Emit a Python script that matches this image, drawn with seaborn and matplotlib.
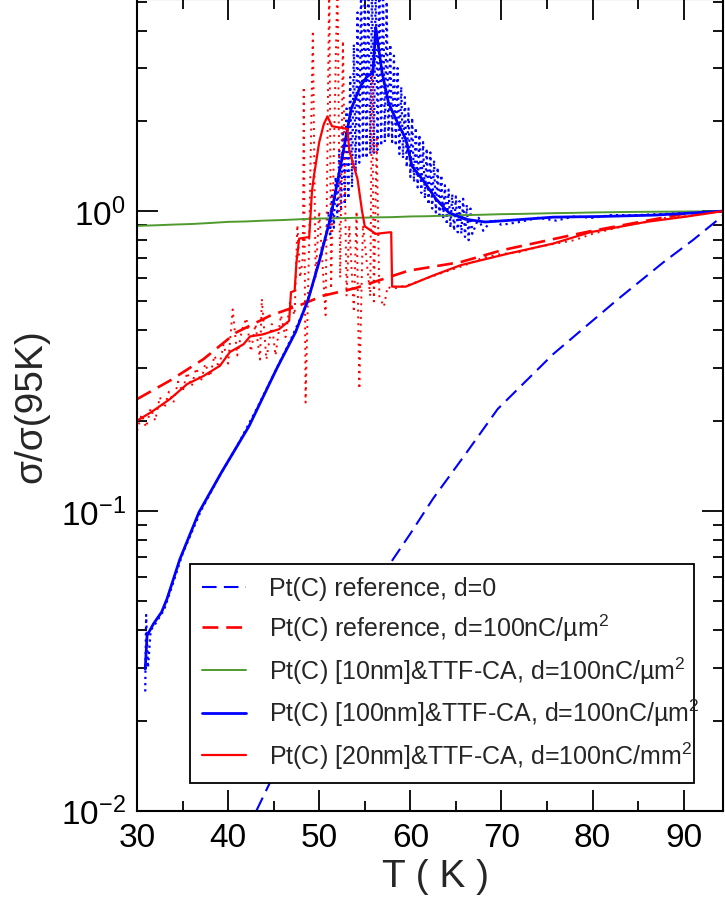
import numpy as np
import pandas as pd
import seaborn as sns
import matplotlib.pyplot as plt
from matplotlib.ticker import LogLocator, MultipleLocator, NullFormatter, LogFormatterSciNotation

# values: T (K) and sigma/sigma(95K)
ref0_T = [43.1, 44.8, 48.0, 52.0, 55.0, 57.9, 60.0, 62.5, 66.0, 69.6, 75.7, 82.8, 87.8, 91.0, 94.3]
ref0_y = [0.010, 0.0128, 0.019, 0.031, 0.047, 0.0676, 0.084, 0.110, 0.154, 0.219, 0.334, 0.509, 0.676, 0.80, 0.965]

ref100_T = [30.0, 33.6, 37.3, 40.9, 44.6, 48.2, 50.4, 54.0, 59.8, 65.5, 70.0, 78.2, 80.0, 89.8, 94.3]
ref100_y = [0.236, 0.272, 0.321, 0.394, 0.448, 0.49, 0.522, 0.554, 0.633, 0.676, 0.74, 0.838, 0.86, 0.977, 1.0]

g10_T = [30, 32, 34, 36, 38, 40, 42, 44, 46, 48, 50, 52, 54, 56, 58, 60, 62, 64, 66, 68, 70,
         72, 74, 76, 78, 80, 82, 84, 86, 88, 90, 92, 94.3]
g10_y = [0.893, 0.897, 0.902, 0.906, 0.913, 0.921, 0.924, 0.93, 0.934, 0.94, 0.945, 0.947, 0.95, 0.953,
         0.955, 0.96, 0.962, 0.966, 0.97, 0.973, 0.977, 0.979, 0.982, 0.985, 0.987, 0.99, 0.992,
         0.994, 0.995, 0.996, 0.997, 0.998, 1.0]

b100_T = [30.9, 31.1, 31.8, 32.7, 33.3, 34.7, 36.8, 39.3, 42.3, 45.3, 47.4, 48.8, 50.0, 51.2, 52.5,
          53.5, 54.5, 55.2, 55.9, 56.2, 56.9, 57.6, 58.4, 59.5, 60.2, 61.3, 62.8, 64.2, 66.0, 68.2,
          70.5, 75.7, 81.0, 86.8, 92.0, 94.3]
b100_y = [0.0297, 0.0384, 0.042, 0.046, 0.051, 0.069, 0.099, 0.135, 0.192, 0.297, 0.395, 0.509, 0.68,
          0.94, 1.5, 2.19, 2.6, 2.8, 2.9, 4.1, 2.9, 2.3, 2.03, 1.74, 1.41, 1.28, 1.1, 0.99, 0.94, 0.92,
          0.93, 0.955, 0.96, 0.97, 0.99, 1.0]

# raw 100nm trace (dotted): scatters strongly around the peak
b100_dot_T = [30.9, 31.0, 31.2, 31.5, 32.0, 33.0, 34.0, 35.0, 37.0, 39.0, 41.0, 43.0, 45.0, 47.0, 48.5,
              49.5, 50.3, 50.8,
              51.0, 51.2, 51.4, 51.6, 51.8, 52.0, 52.2, 52.4, 52.6, 52.8, 53.0, 53.2, 53.4, 53.6, 53.8,
              54.0, 54.2, 54.4, 54.6, 54.8, 55.0, 55.2, 55.4, 55.6, 55.8, 56.0, 56.2, 56.4, 56.6, 56.8,
              57.0, 57.2, 57.4, 57.6, 57.8, 58.0, 58.2, 58.4, 58.6, 58.8, 59.0, 59.2, 59.4, 59.6, 59.8,
              60.0, 60.2, 60.4, 60.6, 60.8, 61.0, 61.2, 61.4, 61.6, 61.8, 62.0, 62.2, 62.4, 62.6, 62.8,
              63.0, 63.2, 63.4, 63.6, 63.8, 64.0, 64.2, 64.4, 64.6, 64.8, 65.0, 65.2, 65.4, 65.6, 65.8,
              66.0, 66.2, 66.4, 66.6, 66.8,
              67.5, 68.0, 69.0, 70.0, 72.0, 74.0, 76.0, 78.0, 80.0, 82.0, 85.0, 88.0, 91.0, 94.3]
b100_dot_y = [0.025, 0.045, 0.03, 0.04, 0.042, 0.047, 0.058, 0.072, 0.1, 0.13, 0.165, 0.215, 0.285, 0.38,
              0.48, 0.6, 0.75, 0.85,
              1.0, 0.82, 1.15, 0.88, 1.3, 0.95, 1.6, 1.0, 1.9, 1.05, 2.2, 1.1, 2.8, 1.2, 3.6,
              1.35, 4.6, 1.45, 6.0, 1.5, 6.0, 1.5, 6.0, 1.55, 6.0, 1.55, 6.0, 1.6, 6.0, 1.65,
              6.0, 1.7, 5.0, 1.75, 3.6, 1.7, 3.3, 1.65, 3.0, 1.55, 2.6, 1.5, 2.4, 1.4, 2.2,
              1.3, 2.05, 1.25, 1.9, 1.2, 1.8, 1.15, 1.7, 1.1, 1.62, 1.05, 1.57, 1.02, 1.48, 0.99,
              1.4, 0.97, 1.32, 0.94, 1.22, 0.9, 1.18, 0.88, 1.14, 0.86, 1.12, 0.85, 1.08, 0.84, 1.1,
              0.82, 1.05, 0.8, 1.02, 0.84,
              0.95, 0.86, 0.94, 0.9, 0.92, 0.95, 0.93, 0.96, 0.95, 0.97, 0.97, 0.98, 0.99, 1.0]

r20_T = [30.0, 31.6, 33.6, 35.5, 37.3, 39.1, 40.2, 41.7, 42.4, 43.8, 45.6, 46.7, 46.9, 47.3, 47.5,
         47.8, 48.9, 49.2, 49.4, 50.0, 50.5, 50.9, 51.4, 53.1, 53.3, 54.2, 54.7, 55.0, 56.2, 57.7,
         57.9, 58.0, 59.5, 62.5, 65.5, 70.6, 75.7, 79.7, 85.8, 90.4, 94.3]
r20_y = [0.2, 0.214, 0.236, 0.265, 0.282, 0.305, 0.339, 0.36, 0.382, 0.388, 0.404, 0.431, 0.537, 0.542,
         0.676, 0.81, 0.82, 1.16, 1.3, 1.7, 1.95, 2.07, 1.92, 1.88, 1.59, 1.28, 1.0, 0.89, 0.84, 0.85,
         0.85, 0.56, 0.56, 0.61, 0.66, 0.72, 0.78, 0.85, 0.92, 0.96, 1.0]

# raw 20nm trace (dotted): switching spikes between 47 and 57 K
r20_dot_T = [30.0, 30.5, 31.0, 31.5, 32.0, 32.5, 33.0, 33.5, 34.0, 34.5, 35.0, 35.5, 36.0, 36.5, 37.0,
             37.5, 38.0, 38.5, 39.0, 39.5, 40.0, 40.5, 41.0, 41.5, 42.0, 42.5, 43.0, 43.5, 43.7, 44.2,
             44.8, 45.2, 45.8, 46.3, 46.8, 47.3, 47.6, 47.9, 48.2, 48.3, 48.5, 48.9, 49.3, 49.6, 50.0,
             50.7, 51.1, 51.3, 52.0, 52.3, 52.6, 53.0, 53.3, 53.8, 54.1, 54.4, 54.8, 55.6, 55.8, 56.0,
             56.3, 56.6, 57.1, 57.5, 58.0, 60.0, 62.0, 64.0, 66.0, 68.0, 70.0, 72.0, 74.0, 76.0, 78.0,
             80.0, 82.0, 84.0, 86.0, 88.0, 90.0, 92.0, 94.3]
r20_dot_y = [0.185, 0.21, 0.19, 0.22, 0.2, 0.24, 0.22, 0.25, 0.23, 0.27, 0.25, 0.29, 0.26, 0.3, 0.27,
             0.31, 0.28, 0.33, 0.3, 0.36, 0.31, 0.47, 0.33, 0.4, 0.44, 0.34, 0.42, 0.32, 0.51, 0.32,
             0.42, 0.33, 0.45, 0.38, 0.5, 0.45, 0.9, 0.6, 0.7, 2.6, 0.23, 0.8, 4.0, 0.6, 1.0,
             0.45, 6.0, 0.55, 6.0, 0.6, 3.7, 0.52, 0.9, 0.46, 1.0, 0.255, 0.9, 0.52, 3.0, 0.5,
             1.74, 0.52, 0.48, 0.56, 0.55, 0.57, 0.6, 0.63, 0.66, 0.7, 0.72, 0.73, 0.76, 0.78, 0.8,
             0.84, 0.87, 0.9, 0.92, 0.95, 0.96, 0.98, 1.0]

labels = ["Pt(C) reference, d=0",
          "Pt(C) reference, d=100nC/µm$^{2}$",
          "Pt(C) [10nm]&TTF-CA, d=100nC/µm$^{2}$",
          "Pt(C) [100nm]&TTF-CA, d=100nC/µm$^{2}$",
          "Pt(C) [20nm]&TTF-CA, d=100nC/mm$^{2}$"]

sns.set_theme(style="ticks")
plt.rcParams['font.family'] = ['Liberation Sans', 'DejaVu Sans']
plt.rcParams['mathtext.fontset'] = 'custom'
plt.rcParams['mathtext.rm'] = 'Liberation Sans'
plt.rcParams['mathtext.it'] = 'Liberation Sans:italic'
plt.rcParams['mathtext.default'] = 'regular'

fig = plt.figure(figsize=(7.25, 9.03), dpi=100)
ax = fig.add_axes([0.189, 0.101, 0.808, 0.899])

blue = "#0000ff"
red = "#ff0000"
green = "#4f9a2e"

# raw (dotted) curves first
sns.lineplot(x=b100_dot_T, y=b100_dot_y, ax=ax, color=blue, lw=1.6, linestyle=(0, (1, 1.8)),
             estimator=None, sort=False)
sns.lineplot(x=r20_dot_T, y=r20_dot_y, ax=ax, color=red, lw=1.4, linestyle=(0, (1, 2.5)),
             estimator=None, sort=False)

h = []
sns.lineplot(x=ref0_T, y=ref0_y, ax=ax, color=blue, lw=1.5, linestyle=(0, (7, 3.5)),
             estimator=None, sort=False)
h.append(ax.lines[-1])
sns.lineplot(x=ref100_T, y=ref100_y, ax=ax, color=red, lw=1.9, linestyle=(0, (6, 3)),
             estimator=None, sort=False)
h.append(ax.lines[-1])
sns.lineplot(x=g10_T, y=g10_y, ax=ax, color=green, lw=1.4, estimator=None, sort=False)
h.append(ax.lines[-1])
sns.lineplot(x=b100_T, y=b100_y, ax=ax, color=blue, lw=2.0, estimator=None, sort=False)
h.append(ax.lines[-1])
sns.lineplot(x=r20_T, y=r20_y, ax=ax, color=red, lw=1.6, estimator=None, sort=False)
h.append(ax.lines[-1])

ax.set_yscale('log')
ax.set_xlim(30, 94.3)
ax.set_ylim(0.01, 5.1)

ax.xaxis.set_major_locator(MultipleLocator(10))
ax.xaxis.set_minor_locator(MultipleLocator(5))
ax.yaxis.set_major_locator(LogLocator(base=10))
ax.yaxis.set_minor_locator(LogLocator(base=10, subs=np.arange(2, 10)))
ax.yaxis.set_major_formatter(LogFormatterSciNotation())
ax.yaxis.set_minor_formatter(NullFormatter())

ax.tick_params(which='both', direction='in', top=True, right=True, width=1.3, colors='black')
ax.tick_params(which='major', length=15, labelsize=24, pad=8)
ax.tick_params(which='minor', length=7.5)
for s in ax.spines.values():
    s.set_linewidth(1.5)
    s.set_color('black')

ax.set_xlabel("T ( K )", fontsize=28, labelpad=2)
ax.xaxis.set_label_coords(0.51, -0.058)
ax.set_ylabel("σ/σ(95K)", fontsize=28, labelpad=8)

leg = ax.legend(h, labels, loc='upper left', bbox_to_anchor=(0.0904, 0.3042, 0.860, 0.0),
                mode='expand', borderaxespad=0, fontsize=18, frameon=True, fancybox=False,
                framealpha=1, edgecolor='black', handlelength=1.75, handletextpad=0.9,
                labelspacing=0.45, borderpad=0.5)
leg.get_frame().set_linewidth(1.3)

fig.savefig("out.png", dpi=100)
